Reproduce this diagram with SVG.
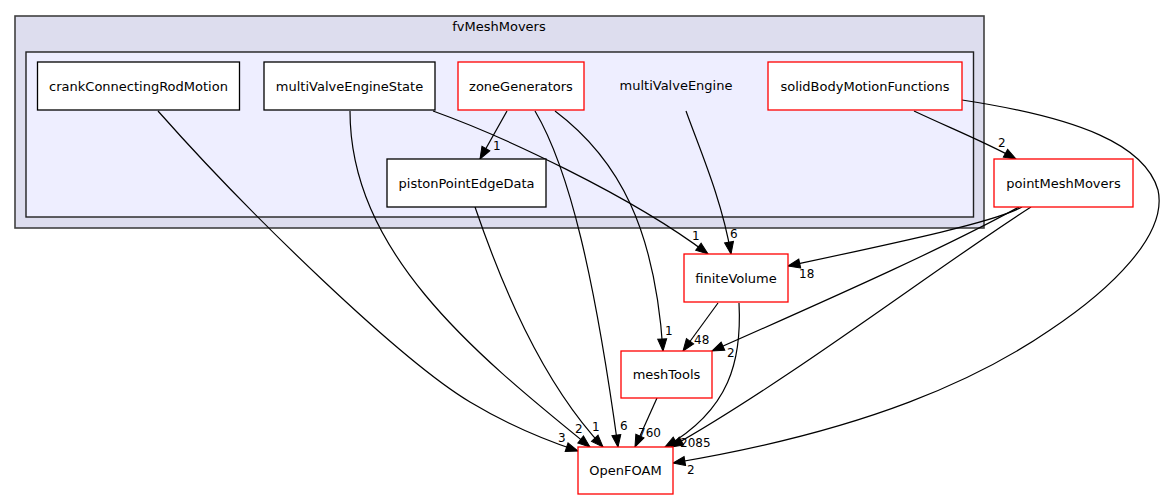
<svg xmlns="http://www.w3.org/2000/svg" width="1164" height="500" viewBox="0 0 1164 500">
<style>
.t{font-family:"DejaVu Sans","Liberation Sans",sans-serif;font-size:13px;fill:#000;text-anchor:middle}
.l{font-family:"DejaVu Sans","Liberation Sans",sans-serif;font-size:12px;fill:#000}
.n{fill:#fff;stroke:#000;stroke-width:1.3}
.r{fill:#fff;stroke:#ff0000;stroke-width:1.3}
.e{fill:none;stroke:#000;stroke-width:1.2;marker-end:url(#a)}
</style>
<defs>
<marker id="a" markerUnits="userSpaceOnUse" markerWidth="13" markerHeight="10" refX="12" refY="4.5" orient="auto" overflow="visible">
<path d="M0,0 L12,4.5 L0,9 z" fill="#000" stroke="#000" stroke-width="1"/>
</marker>
</defs>
<rect width="1164" height="500" fill="#fff"/>
<g id="cluster-fvMeshMovers">
<rect x="15" y="16" width="969" height="212" fill="#ddddee" stroke="#404040" stroke-width="1.6"/>
<text class="t" x="499" y="31">fvMeshMovers</text>
</g>
<g id="cluster-multiValveEngine">
<rect x="26" y="52" width="947.5" height="165" fill="#eeeeff" stroke="#202020" stroke-width="1.4"/>
<text class="t" x="676" y="90">multiValveEngine</text>
</g>
<g id="connectors">
<path class="e" d="M507,111 L480,159"/>
<text class="l" x="493" y="150">1</text>
<path class="e" d="M433,111 C500,135 630,195 708,254"/>
<text class="l" x="692" y="240">1</text>
<path class="e" d="M686,111 C700,150 722,200 731,254"/>
<text class="l" x="730" y="238">6</text>
<path class="e" d="M914,111 C950,128 985,142 1016,159"/>
<text class="l" x="998" y="147">2</text>
<path class="e" d="M962,100 C1080,118 1145,145 1158,190 C1168,235 1110,290 1050,330 C980,378 870,430 673,463"/>
<text class="l" x="687" y="474">2</text>
<path class="e" d="M1022,207 C995,222 900,242 788,266"/>
<text class="l" x="799" y="278">18</text>
<path class="e" d="M1019,207 C950,245 850,290 712,351"/>
<text class="l" x="727" y="357">2</text>
<path class="e" d="M1031,207 C940,265 790,380 671,447"/>
<path class="e" d="M739,303 C742,360 730,410 665,447"/>
<text class="l" x="680" y="447">2085</text>
<path class="e" d="M718,303 L683,351"/>
<text class="l" x="694" y="344">48</text>
<path class="e" d="M555,111 C620,160 655,230 663,351"/>
<text class="l" x="665" y="335">1</text>
<path class="e" d="M535,111 C570,170 595,280 618,447"/>
<text class="l" x="620" y="430">6</text>
<path class="e" d="M657,398 L635,447"/>
<text class="l" x="638" y="437">760</text>
<path class="e" d="M475,207 C500,280 540,380 603,447"/>
<text class="l" x="592" y="431">1</text>
<path class="e" d="M350,111 C350,250 470,350 590,447"/>
<text class="l" x="575" y="433">2</text>
<path class="e" d="M158,111 C250,215 400,360 470,402 C510,426 545,440 578,451"/>
<text class="l" x="558" y="442">3</text>
</g>
<g id="node-crankConnectingRodMotion">
<rect class="n" x="37.5" y="62" width="202" height="48"/>
<text class="t" x="138.5" y="90.5">crankConnectingRodMotion</text>
</g>
<g id="node-multiValveEngineState">
<rect class="n" x="264" y="62" width="171" height="48"/>
<text class="t" x="349.5" y="90.5">multiValveEngineState</text>
</g>
<g id="node-zoneGenerators">
<rect class="r" x="458" y="62" width="126" height="48"/>
<text class="t" x="521" y="90.5">zoneGenerators</text>
</g>
<g id="node-solidBodyMotionFunctions">
<rect class="r" x="768" y="62" width="194" height="48"/>
<text class="t" x="865" y="90.5">solidBodyMotionFunctions</text>
</g>
<g id="node-pistonPointEdgeData">
<rect class="n" x="387" y="159" width="159" height="48"/>
<text class="t" x="466.5" y="187.5">pistonPointEdgeData</text>
</g>
<g id="node-pointMeshMovers">
<rect class="r" x="994" y="159" width="139" height="48"/>
<text class="t" x="1063.5" y="187.5">pointMeshMovers</text>
</g>
<g id="node-finiteVolume">
<rect class="r" x="684" y="254" width="104" height="48"/>
<text class="t" x="736" y="282.5">finiteVolume</text>
</g>
<g id="node-meshTools">
<rect class="r" x="621" y="351" width="91" height="47"/>
<text class="t" x="666.5" y="379">meshTools</text>
</g>
<g id="node-OpenFOAM">
<rect class="r" x="578" y="447" width="95" height="47"/>
<text class="t" x="625.5" y="475">OpenFOAM</text>
</g>
</svg>
